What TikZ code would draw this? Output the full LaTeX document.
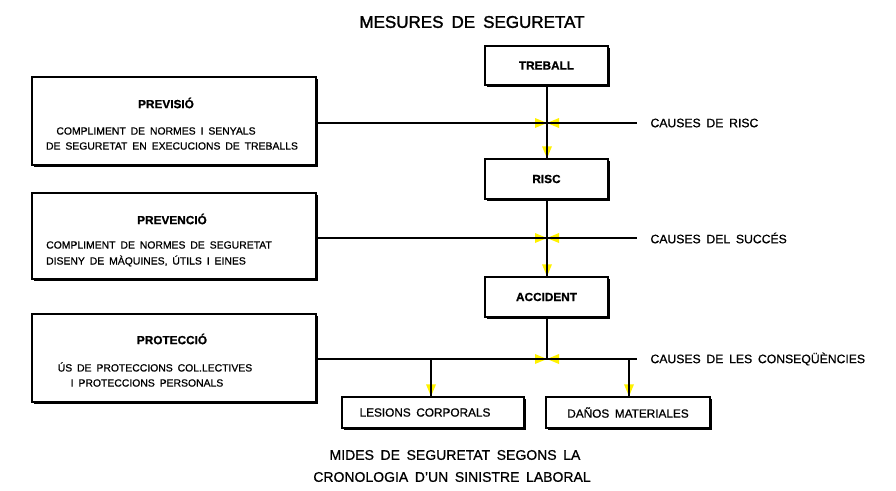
\documentclass[tikz,border=0pt]{standalone}
\usepackage{fontspec}
\setmainfont{Liberation Sans}[WordSpace=1.7,FakeBold=0.8]
\usetikzlibrary{arrows.meta,shadows}
\begin{document}
\begin{tikzpicture}[x=1pt,y=-1pt,
  ln/.style={draw=black,line width=1.3pt},
  ytip/.style={fill=yellow},
  box/.style={draw=black,line width=1.3pt,fill=white,inner sep=0pt,
    drop shadow={shadow xshift=1.8pt,shadow yshift=-1.8pt,fill=black,opacity=1}},
  ttl/.style={font=\fontsize{11.8}{13}\selectfont\bfseries},
  txt/.style={font=\fontsize{10.4}{12}\selectfont},
  lab/.style={font=\fontsize{12.2}{13}\selectfont,anchor=west},
  big/.style={font=\fontsize{14}{15}\selectfont}]
\useasboundingbox (0,0) rectangle (896,490);
\fill[white] (0,0) rectangle (896,490);

% title
\node[font=\fontsize{17}{18}\selectfont\addfontfeature{FakeBold=1.6}] (title) at (472,22) {MESURES DE SEGURETAT};

% central boxes
\node[box,ttl,minimum width=123pt,minimum height=39pt] (treball) at (546.5,65.5) {TREBALL};
\node[box,ttl,minimum width=123pt,minimum height=40pt] (risc) at (546.5,179) {RISC};
\node[box,ttl,minimum width=123pt,minimum height=40pt] (accident) at (546.5,297) {ACCIDENT};

% left boxes
\node[box,minimum width=284pt,minimum height=88pt] (previsio) at (174,121) {};
\node[box,minimum width=284pt,minimum height=86pt] (prevencio) at (174,236) {};
\node[box,minimum width=284pt,minimum height=88pt] (proteccio) at (174,358) {};

\node[ttl] (previsiot) at (166,103) {PREVISIÓ};
\node[txt] (previsio1) at (156,131) {COMPLIMENT DE NORMES I SENYALS};
\node[txt] (previsio2) at (172,146) {DE SEGURETAT EN EXECUCIONS DE TREBALLS};

\node[ttl] (prevenciot) at (172,219) {PREVENCIÓ};
\node[txt] (prevencio1) at (159,245) {COMPLIMENT DE NORMES DE SEGURETAT};
\node[txt] (prevencio2) at (146,261) {DISENY DE MÀQUINES, ÚTILS I EINES};

\node[ttl] (protecciot) at (172,339) {PROTECCIÓ};
\node[txt] (proteccio1) at (155,367) {ÚS DE PROTECCIONS COL.LECTIVES};
\node[txt] (proteccio2) at (147,383) {I PROTECCIONS PERSONALS};

% bottom boxes
\node[box,minimum width=182pt,minimum height=31pt] (lesions) at (433,412.5) {};
\node[font=\fontsize{11.8}{13}\selectfont] (lesionst) at (425,412.5) {LESIONS CORPORALS};
\node[box,font=\fontsize{11.8}{13}\selectfont,minimum width=164pt,minimum height=31pt] (danos) at (628,412.5) {DAÑOS MATERIALES};

% right labels
\node[lab] (c1) at (647,123) {CAUSES DE RISC};
\node[lab] (c2) at (647,238) {CAUSES DEL SUCCÉS};
\node[lab] (c3) at (647,359) {CAUSES DE LES CONSEQÜÈNCIES};

% junction coordinates
\coordinate (j1) at (547,123);
\coordinate (j2) at (547,238);
\coordinate (j3) at (547,359);
\coordinate (e1) at (637,123);
\coordinate (e2) at (637,238);
\coordinate (e3) at (637,359);
\coordinate (b1) at (431,359);
\coordinate (b2) at (629,359);

% yellow arrowheads
\foreach \j in {j1,j2,j3}{
  \fill[ytip] (\j) -- ++(-12,-5) -- ++(0,10) -- cycle;
  \fill[ytip] (\j) -- ++(12,-5) -- ++(0,10) -- cycle;
}
\fill[ytip] (risc.north -| j1) -- ++(-5,-12) -- ++(10,0) -- cycle;
\fill[ytip] (accident.north -| j2) -- ++(-5,-12) -- ++(10,0) -- cycle;
\fill[ytip] (b1 |- lesions.north) -- ++(-5,-12) -- ++(10,0) -- cycle;
\fill[ytip] (b2 |- danos.north) -- ++(-5,-12) -- ++(10,0) -- cycle;

% black connectors
\draw[ln] (previsio.east |- j1) -- (e1);
\draw[ln] (prevencio.east |- j2) -- (e2);
\draw[ln] (proteccio.east |- j3) -- (e3);
\draw[ln] (treball.south -| j1) -- (risc.north -| j1);
\draw[ln] (risc.south -| j2) -- (accident.north -| j2);
\draw[ln] (accident.south -| j3) -- (j3);
\draw[ln] (b1) -- (b1 |- lesions.north);
\draw[ln] (b2) -- (b2 |- danos.north);

% caption
\node[big] (cap1) at (455,455) {MIDES DE SEGURETAT SEGONS LA};
\node[big] (cap2) at (452,477) {CRONOLOGIA D’UN SINISTRE LABORAL};
\end{tikzpicture}
\end{document}
